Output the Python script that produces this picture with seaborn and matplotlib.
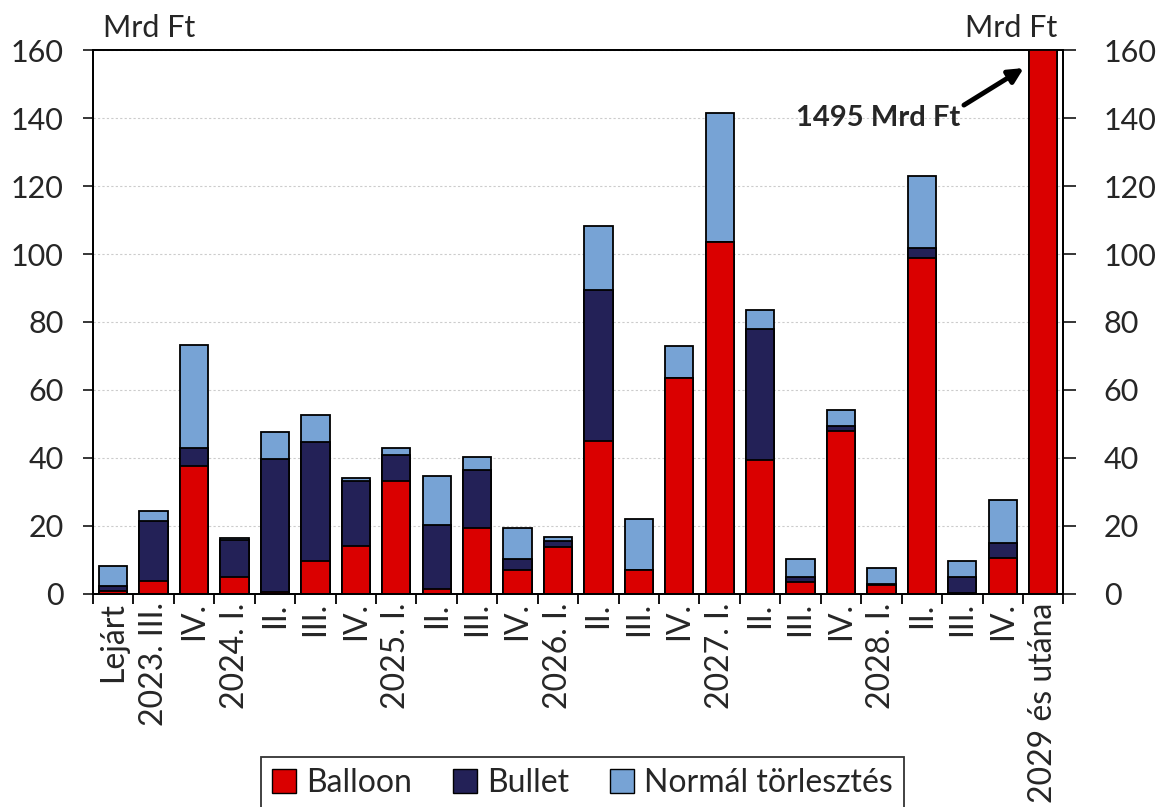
import numpy as np
import pandas as pd
import matplotlib.pyplot as plt
import seaborn as sns
from matplotlib.patches import Patch

# ===================== Data (Mrd Ft) =====================
periods = ["Lejárt", "2023. III.", "IV.", "2024. I.", "II.", "III.", "IV.",
           "2025. I.", "II.", "III.", "IV.", "2026. I.", "II.", "III.", "IV.",
           "2027. I.", "II.", "III.", "IV.", "2028. I.", "II.", "III.", "IV.",
           "2029 és utána"]
balloon = [1.0, 3.9, 37.7, 5.1, 0.5, 9.6, 14.0, 33.1, 1.6, 19.3, 6.9, 13.8,
           44.9, 7.0, 63.4, 103.6, 39.5, 3.5, 48.0, 2.5, 98.9, 0.3, 10.6, 1495.0]
bullet = [1.4, 17.7, 5.1, 10.9, 39.2, 35.0, 19.2, 7.7, 18.8, 17.3, 3.4, 1.9,
          44.4, 0.0, 0.0, 0.0, 38.5, 1.6, 1.4, 0.3, 2.9, 4.8, 4.4, 0.0]
normal = [5.8, 2.8, 30.3, 0.4, 7.8, 7.9, 0.9, 2.0, 14.2, 3.8, 9.2, 1.1,
          19.0, 15.1, 9.4, 37.8, 5.6, 5.3, 4.7, 4.7, 21.2, 4.6, 12.5, 0.0]

col_balloon = "#DA0000"
col_bullet = "#232157"
col_normal = "#77A3D5"

df = pd.DataFrame({"pos": np.arange(len(periods)), "balloon": balloon,
                   "bullet": bullet, "normal": normal})
df["lvl2"] = df["balloon"] + df["bullet"]
df["lvl3"] = df["lvl2"] + df["normal"]

# ===================== Plot =====================
sns.set_style("white")
plt.rcParams["font.family"] = ["Lato", "DejaVu Sans"]

fig = plt.figure(figsize=(11.58, 8.07), dpi=100)
ax = fig.add_axes([0.0803, 0.264, 0.838, 0.674])

# stacked bars: draw cumulative totals from the top layer down
for col, c in [("lvl3", col_normal), ("lvl2", col_bullet), ("balloon", col_balloon)]:
    sns.barplot(data=df, x="pos", y=col, color=c, saturation=1, width=0.7,
                edgecolor="black", linewidth=1.3, ax=ax, zorder=3)

ax.set_xlim(-0.49, 23.48)
ax.set_ylim(0, 160)
ax.set_yticks(np.arange(0, 161, 20))
ax.yaxis.grid(True, linestyle=(0, (2, 2)), color="#cccccc", linewidth=0.8)
ax.set_axisbelow(True)
ax.set_xlabel("")
ax.set_ylabel("")

# x ticks: labels centred on bars, tick marks at category boundaries
ax.set_xticks(np.arange(len(periods)))
ax.set_xticklabels(periods, rotation=90, fontsize=23)
ax.tick_params(axis="x", which="major", length=0, pad=6)
ax.set_xticks(np.arange(len(periods) + 1) - 0.5, minor=True)
ax.tick_params(axis="x", which="minor", direction="out", length=7, width=1.3,
               color="black", bottom=True)
ax.tick_params(axis="y", direction="out", length=7, width=1.3, labelsize=22,
               left=True, pad=14)

for s in ax.spines.values():
    s.set_color("black")
    s.set_linewidth(1.3)

# right hand axis
ax2 = ax.twinx()
ax2.set_ylim(0, 160)
ax2.set_yticks(np.arange(0, 161, 20))
ax2.tick_params(axis="y", direction="out", length=9, width=1.3, labelsize=22,
                right=True, pad=20)
for s in ax2.spines.values():
    s.set_color("black")
    s.set_linewidth(1.3)
ax2.grid(False)

# units
fig.text(103 / 1158, 1 - 28 / 807, "Mrd Ft", fontsize=22, ha="left", va="center")
fig.text(1057 / 1158, 1 - 28 / 807, "Mrd Ft", fontsize=22, ha="right", va="center")

# annotation for the off-scale bar
ax.text(20.95, 140, "1495 Mrd Ft", fontsize=21, fontweight="bold",
        ha="right", va="center", zorder=5)
ax.annotate("", xy=(22.52, 154.7), xytext=(21.04, 143.8),
            arrowprops=dict(arrowstyle="-|>", lw=3.5, color="black",
                            mutation_scale=22, shrinkA=0, shrinkB=0),
            zorder=5)

# legend
handles = [Patch(facecolor=col_balloon, edgecolor="black", label="Balloon"),
           Patch(facecolor=col_bullet, edgecolor="black", label="Bullet"),
           Patch(facecolor=col_normal, edgecolor="black", label="Normál törlesztés")]
leg = fig.legend(handles=handles, loc="upper center", bbox_to_anchor=(0.503, 1 - 757 / 807),
                 ncol=3, fontsize=23, frameon=True, fancybox=False,
                 handlelength=0.75, handleheight=0.75, handletextpad=0.3,
                 columnspacing=1.3, borderpad=0.35, borderaxespad=0)
leg.get_frame().set_edgecolor("black")
leg.get_frame().set_linewidth(1.3)

fig.savefig("out.png", dpi=100)
